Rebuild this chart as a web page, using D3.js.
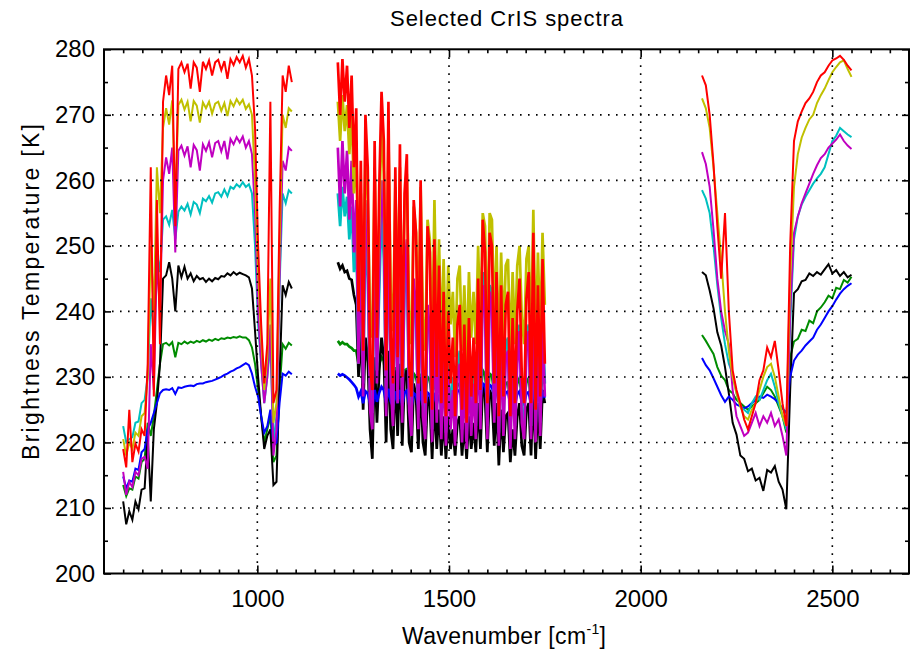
<!DOCTYPE html>
<html>
<head>
<meta charset="utf-8">
<script src="https://cdn.jsdelivr.net/npm/d3@7"></script>
<style>
body { margin: 0; background: #fff; }
svg { display: block; }
text { font-family: "Liberation Sans", Arial, sans-serif; fill: #000; }
</style>
</head>
<body>
<svg id="chart" width="913" height="651"></svg>
<script>
'use strict'

// wavenumber grids of the three CrIS bands [cm-1]
const lwWn = d3.range(650, 1091, 8)     // 56 channels shown
const mwWn = d3.range(1210, 1751, 6)    // 91
const swWn = d3.range(2160, 2551, 10)   // 40

// brightness temperatures [K]
const redLW = [219, 216.2, 225, 217, 219.8, 218.6, 222, 221, 232, 262, 227, 257, 235, 272, 276, 273, 277.5, 253, 277, 278, 276.5, 277.8, 274, 278, 277.2, 273.5, 278.1, 277, 278.3, 276, 278, 278.4, 276.8, 278.2, 275.5, 278.5, 277.6, 278.8, 278, 279, 277.2, 278.5, 276, 268, 250, 238, 229, 235, 272, 226, 228, 255, 276, 273.5, 277.5, 275]
const yellowLW = [220.5, 218, 220, 219, 221.5, 221, 224, 224.5, 230, 250, 240, 262, 255, 268, 271, 268.5, 272.2, 256, 271.5, 272.3, 270.8, 272, 269, 272.1, 271.4, 268.8, 271.9, 271, 272, 270.2, 271.7, 272, 270.6, 271.8, 269.8, 272.1, 271.3, 272.4, 271.6, 272.3, 270.9, 271.6, 270, 260, 246, 236, 228, 233, 245, 223, 226, 250, 270, 268, 271, 270.5]
const magentaLW = [215.5, 212, 214, 213.2, 215.5, 215, 217.5, 217.8, 216, 235, 228, 248, 240, 260, 263.5, 261, 265, 249, 264.5, 265.3, 263.8, 265.2, 262, 265.4, 264.6, 261.5, 265.5, 264.5, 265.8, 263.5, 265.7, 266, 264.4, 266, 263.2, 266.3, 265.5, 266.6, 265.8, 266.7, 265, 266, 264, 255, 240, 232, 226, 230, 238, 218, 222, 245, 263, 261.5, 265, 264.5]
const cyanLW = [222.5, 220, 220.5, 220.8, 223, 223.2, 226, 226.5, 230, 242, 236, 249, 246, 254, 254.5, 253.2, 255.5, 251, 255.2, 256, 255.4, 256.4, 254.8, 256.7, 256.3, 255, 257.2, 256.8, 257.6, 256.6, 258, 258.2, 257.5, 258.6, 257.6, 259, 258.7, 259.4, 259, 259.7, 259, 259.4, 258, 250, 238, 232, 226, 230, 235, 220, 224, 244, 258, 256.5, 258.5, 258]
const blackLW = [211, 207.5, 209.5, 208.2, 211, 209.8, 212.8, 213, 221, 211, 222, 226, 232, 245, 245.5, 247.5, 245, 240, 247, 245.2, 246.8, 245, 245.8, 244.6, 245.4, 244.9, 245.1, 244.5, 245, 244.6, 245.1, 244.9, 245.4, 245.3, 245.8, 245.5, 246, 245.6, 245.9, 245.7, 245.5, 245.2, 243.5, 237, 230, 224, 219, 221, 222, 213.5, 214, 230, 244, 242.5, 244.5, 243.5]
const greenLW = [213.5, 211.8, 213, 212.8, 214.8, 214.5, 217, 217.5, 223, 221, 224, 228, 232, 235, 235.2, 234.8, 235.3, 233, 235.2, 235, 235.4, 235.1, 235.4, 235.2, 235.5, 235.3, 235.6, 235.4, 235.7, 235.5, 235.8, 235.6, 235.9, 235.8, 236, 235.9, 236.1, 236, 236.2, 236, 236, 235.6, 234.5, 232, 228, 224, 220, 222, 224, 217, 218, 228, 235, 234.3, 235.2, 234.8]
const blueLW = [214.8, 213, 214.2, 214, 216, 215.8, 218.5, 219, 222, 223, 224.5, 226, 227.5, 228, 228.1, 228, 228.3, 227.4, 228.4, 228.3, 228.5, 228.6, 228.7, 228.6, 228.9, 229, 229, 229.2, 229.3, 229.4, 229.6, 229.8, 230, 230.3, 230.5, 230.8, 231, 231.3, 231.5, 231.8, 232.1, 231.8, 230.5, 228.5, 227, 224, 221.5, 222.5, 225, 219.5, 220, 226, 230.5, 230.2, 230.8, 230.4]

const redMW = [278, 270, 278.5, 272, 277.5, 268, 276, 262, 271, 240,
    263, 234, 270, 262, 232, 228, 266, 236, 259, 273.5,
    266, 231, 272, 236, 229, 262, 233, 265.5, 230, 258,
    264, 232, 227, 257, 252, 229, 260, 231, 226, 253,
    249, 225, 251, 230, 247, 226, 243, 224, 240, 229,
    236, 224, 238, 241, 225, 238, 223, 239, 227, 236,
    226, 245, 228, 254, 249, 226, 252, 250, 229, 246,
    224, 244, 227, 241, 243, 224, 239, 226, 240, 245,
    230, 226, 242, 246, 226, 252, 225, 244, 227, 248,
    232]
const yellowMW = [272, 266, 273, 267.5, 271.5, 264, 270.5, 258, 266, 244,
    258, 241, 265, 257, 239, 236, 262, 243, 254, 269,
    261, 239, 267, 243, 237, 259, 241, 262, 238, 256,
    261, 240, 235, 256, 252, 237, 259, 239, 234, 254,
    251, 233, 257, 238, 251, 235, 248, 233, 247, 238,
    243, 233, 245, 247, 234, 244, 232, 246, 236, 243,
    235, 250, 237, 255, 253, 235, 255, 254, 238, 250,
    233, 249, 236, 247, 248, 233, 246, 235, 247, 250,
    239, 235, 248, 250, 235, 255.5, 234, 249, 236, 252,
    241]
const magentaMW = [265, 256, 266, 258, 264.5, 254, 263, 249, 257, 232,
    251, 227, 257, 249, 225, 222, 254, 229, 247, 260,
    253, 224, 258, 229, 222.5, 250, 226, 252, 223, 246,
    251, 225, 221, 245, 240, 222, 248, 224, 220.5, 241,
    237, 220, 240, 223, 236, 220.5, 233, 219.5, 231, 222,
    228, 219.5, 230, 232, 220, 230, 219, 231, 221, 229,
    220.5, 237, 222, 244, 240, 220.5, 243, 241, 223, 237,
    219.5, 236, 221, 233, 234, 219, 231, 220.5, 232, 237,
    223, 220.5, 234, 237, 220.5, 241, 220, 236, 221, 238,
    227]
const cyanMW = [258, 253, 259, 254.5, 257.5, 251, 256, 246, 252, 232,
    247, 229, 252, 245, 227, 224.5, 249, 231, 243, 255,
    248, 227, 253, 231, 225, 246, 228, 248, 226, 243,
    247, 227, 223.5, 243, 239, 225, 244, 226, 222.5, 240,
    237, 222, 240, 225, 236, 222.5, 234, 221.5, 232, 224,
    230, 221.5, 231, 234, 222, 232, 221, 233, 223, 231,
    222.5, 240, 224, 246, 243, 222.5, 244, 243, 225, 239,
    221.5, 237, 223, 235, 236, 221, 234, 222.5, 234, 238,
    225, 222.5, 236, 238, 222.5, 242, 222, 237, 223, 239,
    229]
const blackMW = [247.5, 246.5, 247, 246, 246.2, 245, 244.8, 242.5, 241, 230,
    238, 225, 236, 233, 222, 217.5, 233, 223, 231, 236,
    233, 220, 234, 222, 219, 231, 221, 232, 219.5, 230,
    231, 220, 218.5, 229, 227, 219, 230, 220, 218, 227,
    226, 217.5, 227, 219, 225, 218, 224, 217.5, 224, 219,
    222, 218, 223, 224, 218, 223, 217.5, 224, 219, 223,
    218.5, 226, 219, 229, 227, 218.5, 228, 227, 219.5, 226,
    216.5, 225, 218.5, 224, 224.5, 217, 222, 218, 224, 226,
    219.5, 218, 225, 226, 218, 228, 217.5, 226, 219, 228,
    226]
const greenMW = [235.5, 235, 235.3, 235, 235, 234.6, 234.4, 234, 234, 232,
    233.5, 230.5, 233.2, 232.8, 230, 228, 232.5, 229.5, 232, 233,
    232.5, 229, 232.5, 229.5, 228, 231.5, 229, 231.5, 228, 231,
    231.2, 228.5, 227.5, 230.5, 230, 228, 230.5, 228, 227, 230,
    229.6, 226.5, 229.8, 227.5, 229.5, 227, 229, 226.5, 229, 227,
    228.5, 226.5, 228.8, 229, 226.5, 228.8, 226, 229, 227, 228.8,
    226.5, 229.8, 227, 231, 230.4, 226.5, 230.5, 230.2, 227.5, 229.8,
    226, 229.5, 227, 229, 229.2, 226.2, 228.8, 226.5, 229, 229.8,
    227.2, 226.5, 229.2, 229.8, 226.5, 230.5, 226.5, 229.4, 227, 230,
    229]
const blueMW = [230.5, 230.2, 230.4, 230.2, 229.9, 229.6, 229.2, 228.8, 228.3, 227,
    227.8, 226, 227.8, 227.5, 226, 225, 228, 226.2, 227.6, 228.5,
    228, 226, 228.2, 226.3, 225.5, 227.8, 226, 228, 225.6, 227.6,
    227.9, 225.8, 225.4, 227.5, 227.2, 225.6, 227.8, 225.8, 225.5, 227.6,
    227.3, 225.5, 227.6, 225.9, 227.3, 225.8, 227.3, 225.7, 227.6, 226.2,
    227.4, 226, 227.8, 228, 226.3, 228, 226.4, 228.2, 226.8, 228,
    226.6, 228.4, 227, 229, 228.7, 226.4, 228.8, 228.5, 227, 228.2,
    225.8, 228, 226.4, 227.6, 227.8, 225.7, 227.3, 225.8, 227.4, 227.8,
    226.2, 225.8, 227.5, 227.7, 225.8, 228, 225.6, 227.4, 226, 227.6,
    226.8]

const redSW = [276, 274.5, 270, 262.5, 253, 245, 255, 240, 231, 228, 226, 223.5, 222, 224, 226, 229.5, 231, 234.5, 233, 235.5, 231, 226, 222.5, 250, 266, 269, 270.5, 271.8, 272.5, 273.5, 275, 276, 276.5, 277.5, 278.3, 278.6, 279, 278.4, 277.5, 276.8]
const yellowSW = [272.5, 271, 268, 262, 255, 248, 240, 234, 230, 227.5, 225.5, 224, 223.5, 225, 226, 228, 230, 231.5, 232, 230, 227, 224, 222.5, 245, 259, 264, 266.5, 268, 269.3, 270, 271.8, 273, 274, 275.3, 276.5, 277.3, 278, 278.3, 277, 275.8]
const magentaSW = [264.3, 262.5, 259, 252.5, 245, 240, 237, 235, 228, 224, 222.5, 221, 221.5, 223, 224.5, 222.5, 224, 223, 224.5, 222.5, 223.5, 221, 218, 240, 252, 254.5, 256.5, 258, 259.5, 261, 262.3, 263.4, 264, 265, 265.6, 266.2, 267, 266, 265.3, 264.8]
const cyanSW = [258.5, 257.2, 255, 250, 244, 239, 235, 232, 230.5, 227.5, 225.5, 225, 224.5, 226, 227, 226.5, 228, 229.5, 230.5, 228.5, 226, 224, 222, 238, 251, 254.5, 256.3, 257.5, 258.5, 259.5, 260.3, 261, 262, 264, 266, 266.8, 268, 267.5, 267, 266.6]
const blackSW = [246, 245.5, 243.2, 240.5, 236.8, 234.8, 231.5, 227.5, 223, 221.2, 218, 217.5, 215.6, 216, 214.2, 214.6, 212.6, 215.8, 215.4, 216.4, 214, 212.8, 209.8, 228, 242.8, 243.4, 244.6, 244.8, 245.8, 245.4, 246, 245.6, 246.4, 247.2, 245.8, 246.3, 245.4, 246, 245.2, 245.6]
const greenSW = [236.4, 235.5, 234.5, 233.5, 231.5, 230.2, 229.5, 228, 227.5, 226.5, 226, 225.5, 225, 225.5, 226, 226.5, 227.5, 228.5, 228, 227, 225.5, 224, 221.5, 233, 235.4, 235.8, 237.2, 237, 238.6, 238.2, 240, 240.6, 241.4, 242.4, 242, 243.6, 243.4, 244.8, 244.4, 245.3]
const blueSW = [232.9, 231.8, 231, 229.8, 228.5, 227.2, 226.2, 227, 226.5, 225.8, 225.5, 225.2, 225.5, 226, 226.5, 227, 226.8, 227.3, 227, 226.6, 226, 225.2, 224.5, 230, 232.5, 233.4, 234, 234.8, 235.4, 236, 237.2, 238, 239, 240, 240.8, 241.8, 242.7, 243.4, 243.9, 244.3]

// axis ticks
const xMajor = [1000, 1500, 2000, 2500]
const xMinor = [650, 700, 750, 800, 850, 900, 950, 1050, 1100, 1150, 1200, 1250, 1300, 1350, 1400, 1450, 1550, 1600, 1650, 1700, 1750, 1800, 1850, 1900, 1950, 2050, 2100, 2150, 2200, 2250, 2300, 2350, 2400, 2450, 2550, 2600, 2650]
const yMajor = [200, 210, 220, 230, 240, 250, 260, 270, 280]
const yMinor = [205, 215, 225, 235, 245, 255, 265, 275]

// drawing order, last on top
const series = [
    { color: '#008c00', lw: greenLW, mw: greenMW, sw: greenSW },
    { color: '#000000', lw: blackLW, mw: blackMW, sw: blackSW },
    { color: '#0000ff', lw: blueLW, mw: blueMW, sw: blueSW },
    { color: '#00c0c0', lw: cyanLW, mw: cyanMW, sw: cyanSW },
    { color: '#c000c0', lw: magentaLW, mw: magentaMW, sw: magentaSW },
    { color: '#c0c000', lw: yellowLW, mw: yellowMW, sw: yellowSW },
    { color: '#ff0000', lw: redLW, mw: redMW, sw: redSW },
]

const W = 913
const H = 651
const m = { left: 104, right: 4, top: 49.3, bottom: 77.5 }

const x = d3.scaleLinear().domain([600, 2700]).range([m.left, W - m.right])
const y = d3.scaleLinear().domain([200, 280]).range([H - m.bottom, m.top])

const svg = d3.select('#chart')

svg.append('defs').append('clipPath')
    .attr('id', 'plotArea')
    .append('rect')
    .attr('x', m.left)
    .attr('y', m.top)
    .attr('width', W - m.left - m.right)
    .attr('height', H - m.top - m.bottom)

const line = d3.line()
    .x(d => x(d[0]))
    .y(d => y(d[1]))

// the water band is sampled densely, so its trace reads as a filled wall
const bandWidth = [2, 2.7, 2]

const data = svg.append('g').attr('clip-path', 'url(#plotArea)')
series.forEach(s => {
    const bands = [d3.zip(lwWn, s.lw), d3.zip(mwWn, s.mw), d3.zip(swWn, s.sw)]
    data.selectAll(null)
        .data(bands)
        .join('path')
        .attr('d', line)
        .attr('fill', 'none')
        .attr('stroke', s.color)
        .attr('stroke-width', (d, i) => bandWidth[i])
        .attr('stroke-linejoin', 'miter')
})

// dotted grid, on top of the spectra
const grid = svg.append('g')
    .attr('stroke', '#000')
    .attr('stroke-width', 1.6)
    .attr('stroke-dasharray', '1.6,6.4')
grid.selectAll('.gx')
    .data(xMajor)
    .join('line')
    .attr('x1', d => x(d)).attr('x2', d => x(d))
    .attr('y1', y(280)).attr('y2', y(200))
grid.selectAll('.gy')
    .data(yMajor.slice(1, -1))
    .join('line')
    .attr('x1', x(600)).attr('x2', x(2700))
    .attr('y1', d => y(d)).attr('y2', d => y(d))

const axisStyle = (g) => {
    g.select('.domain').remove()
    g.selectAll('line').attr('stroke', '#000').attr('stroke-width', 1.6)
    g.selectAll('text').attr('font-size', 24).attr('font-family', '"Liberation Sans", Arial, sans-serif')
}

const bottom = H - m.bottom
svg.append('g').attr('transform', `translate(0,${bottom})`)
    .call(d3.axisBottom(x).tickValues(xMajor).tickSize(-8).tickPadding(16).tickFormat(d3.format('d')))
    .call(axisStyle)
svg.append('g').attr('transform', `translate(0,${bottom})`)
    .call(d3.axisBottom(x).tickValues(xMinor).tickSize(-4).tickFormat(''))
    .call(axisStyle)
svg.append('g').attr('transform', `translate(0,${m.top})`)
    .call(d3.axisTop(x).tickValues(xMajor).tickSize(-8).tickFormat(''))
    .call(axisStyle)
svg.append('g').attr('transform', `translate(0,${m.top})`)
    .call(d3.axisTop(x).tickValues(xMinor).tickSize(-4).tickFormat(''))
    .call(axisStyle)
svg.append('g').attr('transform', `translate(${m.left},0)`)
    .call(d3.axisLeft(y).tickValues(yMajor).tickSize(-7).tickPadding(9).tickFormat(d3.format('d')))
    .call(axisStyle)
svg.append('g').attr('transform', `translate(${m.left},0)`)
    .call(d3.axisLeft(y).tickValues(yMinor).tickSize(-4).tickFormat(''))
    .call(axisStyle)
svg.append('g').attr('transform', `translate(${W - m.right},0)`)
    .call(d3.axisRight(y).tickValues(yMajor).tickSize(-7).tickFormat(''))
    .call(axisStyle)
svg.append('g').attr('transform', `translate(${W - m.right},0)`)
    .call(d3.axisRight(y).tickValues(yMinor).tickSize(-4).tickFormat(''))
    .call(axisStyle)

svg.append('rect')
    .attr('x', m.left)
    .attr('y', m.top)
    .attr('width', W - m.left - m.right)
    .attr('height', H - m.top - m.bottom)
    .attr('fill', 'none')
    .attr('stroke', '#000')
    .attr('stroke-width', 2)

// titles
const cx = (m.left + W - m.right) / 2
svg.append('text')
    .attr('x', cx).attr('y', 26)
    .attr('text-anchor', 'middle')
    .attr('font-size', 22)
    .attr('textLength', 233)
    .text('Selected CrIS spectra')

const xl = svg.append('text')
    .attr('x', 504).attr('y', 644)
    .attr('text-anchor', 'middle')
    .attr('font-size', 23)
    .attr('textLength', 204)
xl.append('tspan').text('Wavenumber [cm')
xl.append('tspan').attr('font-size', 14).attr('dy', -10).text('-1')
xl.append('tspan').attr('dy', 10).text(']')

svg.append('text')
    .attr('transform', `translate(39,292) rotate(-90)`)
    .attr('text-anchor', 'middle')
    .attr('font-size', 23)
    .attr('textLength', 336)
    .text('Brightness Temperature [K]')
</script>
</body>
</html>
